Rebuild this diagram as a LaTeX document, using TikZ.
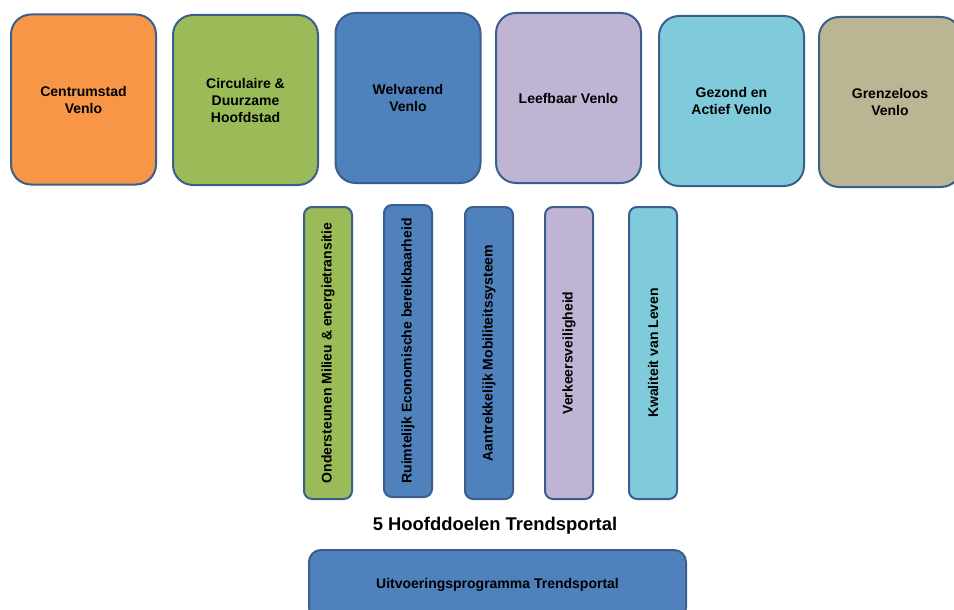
\documentclass[tikz,border=0pt]{standalone}
\usepackage{fontspec}
\setmainfont{Liberation Sans}
\usepackage{tikz}
\usetikzlibrary{shapes,positioning}
\definecolor{rand}{HTML}{3A5F8C}
\definecolor{oranje}{HTML}{F79646}
\definecolor{groen}{HTML}{9BBB59}
\definecolor{blauw}{HTML}{4F81BD}
\definecolor{lila}{HTML}{C0B4D4}
\definecolor{turkoois}{HTML}{80CBDB}
\definecolor{kaki}{HTML}{BAB694}
\tikzset{thema/.style={draw=rand, line width=1.5pt, rounded corners=15pt, minimum width=108.75pt, minimum height=127.5pt, align=center, font=\fontsize{10.5}{12.75}\selectfont\bfseries}}
\tikzset{doel/.style={draw=rand, line width=1.5pt, rounded corners=6pt, minimum width=219pt, minimum height=36pt, rotate=90, font=\fontsize{10.5}{12.75}\selectfont\bfseries}}
\tikzset{programma/.style={draw=rand, line width=1.5pt, rounded corners=9pt, minimum width=282.75pt, minimum height=52.5pt, font=\fontsize{10.5}{12.75}\selectfont\bfseries}}

\begin{document}
\begin{tikzpicture}[x=0.75pt,y=-0.75pt]
\useasboundingbox (0,0) rectangle (954,610);

\node[thema, fill=oranje] (centrum) at (83.5,99.5) {Centrumstad\\Venlo};
\node[thema, fill=groen] (circulair) at (245.5,100) {Circulaire \&\\Duurzame\\Hoofdstad};
\node[thema, fill=blauw] (welvarend) at (408,98) {Welvarend\\Venlo};
\node[thema, fill=lila] (leefbaar) at (568.5,98) {Leefbaar Venlo};
\node[thema, fill=turkoois] (gezond) at (731.5,101) {Gezond en\\Actief Venlo};
\node[thema, fill=kaki, minimum width=106.5pt] (grenzeloos) at (890,102) {Grenzeloos\\Venlo};

\node[doel, fill=groen] (milieu) at (328,353) {Ondersteunen Milieu \& energietransitie};
\node[doel, fill=blauw] (ruimtelijk) at (408,351) {Ruimtelijk Economische bereikbaarheid};
\node[doel, fill=blauw] (mobiliteit) at (489,353) {Aantrekkelijk Mobiliteitssysteem};
\node[doel, fill=lila] (veiligheid) at (569,353) {Verkeersveiligheid};
\node[doel, fill=turkoois] (kwaliteit) at (653,353) {Kwaliteit van Leven};

\node[font=\fontsize{13.8}{16}\selectfont\bfseries] (hoofddoelen) at (495,526) {5 Hoofddoelen Trendsportal};

\node[programma, fill=blauw] (uitvoering) at (497.5,585) {Uitvoeringsprogramma Trendsportal};

\end{tikzpicture}
\end{document}
